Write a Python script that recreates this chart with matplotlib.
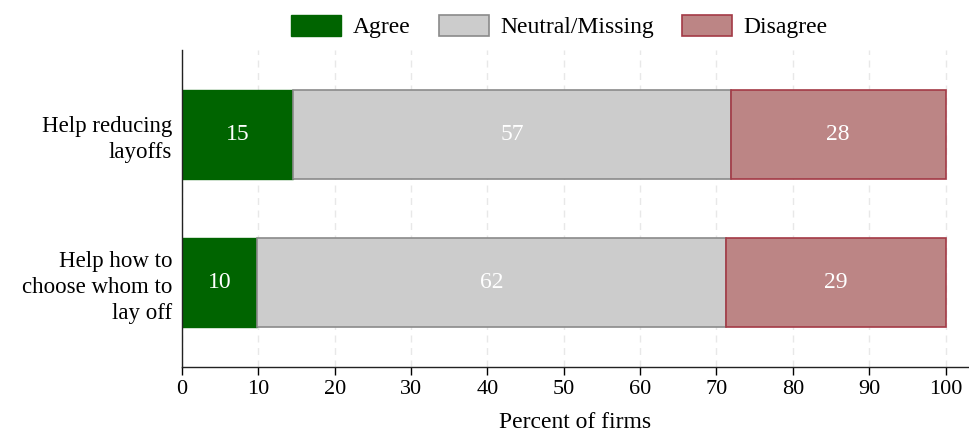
import numpy as np
import matplotlib.pyplot as plt

plt.rcParams['font.family'] = ['Liberation Serif', 'DejaVu Serif']

categories = ['Help reducing\nlayoffs', 'Help how to\nchoose whom to\nlay off']
agree = [14.6, 9.8]
neutral = [57.3, 61.5]
disagree = [28.1, 28.7]
agree_lbl = ['15', '10']
neutral_lbl = ['57', '62']
disagree_lbl = ['28', '29']

fig = plt.figure(figsize=(9.7, 4.36), dpi=100)
ax = fig.add_axes([0.1876, 0.158, 0.81, 0.727])

y = np.arange(len(categories))
h = 0.6
b1 = ax.barh(y, agree, height=h, color='#006400', edgecolor='#006400', lw=1, label='Agree')
b2 = ax.barh(y, neutral, left=agree, height=h, color='#cccccc', edgecolor='#8a8a8a', lw=1.2,
             label='Neutral/Missing')
left3 = np.array(agree) + np.array(neutral)
b3 = ax.barh(y, disagree, left=left3, height=h, color='#bc8585', edgecolor='#a33a46', lw=1.2,
             label='Disagree')

for bars, lbls in [(b1, agree_lbl), (b2, neutral_lbl), (b3, disagree_lbl)]:
    ax.bar_label(bars, labels=lbls, label_type='center', color='white', fontsize=17)

ax.set_xlim(0, 102.9)
ax.set_ylim(1.57, -0.57)
ax.set_yticks(y)
ax.set_yticklabels(categories, fontsize=16.5, ha='right', multialignment='right', linespacing=1.3)
ax.set_xticks(np.arange(0, 101, 10))
ax.tick_params(axis='x', labelsize=16, length=6, width=1, direction='out')
ax.tick_params(axis='y', length=0, pad=7)
ax.set_xlabel('Percent of firms', fontsize=17, labelpad=9)

ax.grid(axis='x', color='#e8e8e8', ls=(0, (5, 4)), lw=1)
ax.set_axisbelow(True)
for s in ['top', 'right']:
    ax.spines[s].set_visible(False)
for s in ['left', 'bottom']:
    ax.spines[s].set_color('#222222')
    ax.spines[s].set_linewidth(1)

fig.legend(handles=[b1, b2, b3], loc='upper center', bbox_to_anchor=(0.577, 1.015), ncol=3,
           frameon=False, fontsize=17, handlelength=2.1, handleheight=1.0,
           columnspacing=1.2, handletextpad=0.5)

fig.savefig('out.png', dpi=100)
